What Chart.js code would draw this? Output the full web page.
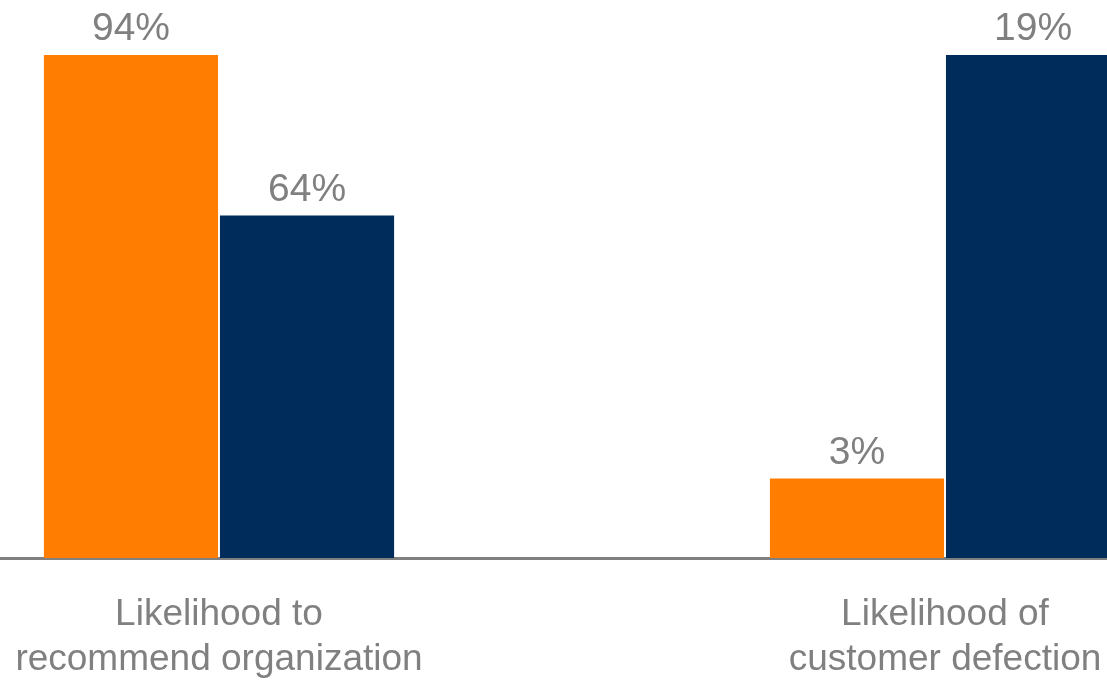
<!DOCTYPE html>
<html>
<head>
<meta charset="utf-8">
<script src="https://cdn.jsdelivr.net/npm/chart.js@4.4.1/dist/chart.umd.min.js"></script>
<style>
    html, body { margin: 0; padding: 0; background: #fff; overflow: hidden; }
    #wrap { width: 1107px; height: 681px; overflow: hidden; }
    canvas { display: block; }
</style>
</head>
<body>
<div id="wrap">
    <canvas id="chart" width="1130" height="681"></canvas>
</div>
<script>
// Categories (middle one is an empty spacer between the two groups)
const categories = [
    ['Likelihood to', 'recommend organization'],
    '',
    ['Likelihood of', 'customer defection']
];
// Orange series and navy series, one value per category
const orangeValues = [94, null, 3];
const navyValues = [64, null, 19];
// Each group has its own scale (its highest bar reaches the top)
const groupMax = [94, null, 19];
const groupAxis = ['y', null, 'y2'];

const ORANGE = '#FF7D00';
const NAVY = '#002C5C';
const GREY = '#808080';
const FONT = '"Liberation Sans", Arial, Helvetica, sans-serif';

// One dataset per bar so each group can sit on its own axis
const datasets = [];
categories.forEach((cat, i) => {
    if (groupAxis[i] === null) return;
    [[orangeValues, ORANGE], [navyValues, NAVY]].forEach(([values, color]) => {
        const data = categories.map((c, j) => (j === i ? values[i] : null));
        datasets.push({
            data: data,
            backgroundColor: color,
            yAxisID: groupAxis[i],
            skipNull: true,
            categoryPercentage: 0.97,
            barPercentage: 0.989
        });
    });
});

// Grey baseline across the whole width
const baselinePlugin = {
    id: 'baseline',
    beforeDatasetsDraw(chart) {
        const ctx = chart.ctx;
        const y = chart.scales.y.getPixelForValue(0);
        ctx.save();
        ctx.strokeStyle = GREY;
        ctx.lineWidth = 3;
        ctx.beginPath();
        ctx.moveTo(0, y + 0.5);
        ctx.lineTo(chart.width, y + 0.5);
        ctx.stroke();
        ctx.restore();
    }
};

// Percent labels above the bars
const valueLabels = {
    id: 'valueLabels',
    afterDatasetsDraw(chart) {
        const ctx = chart.ctx;
        ctx.save();
        ctx.fillStyle = GREY;
        ctx.font = '39px ' + FONT;
        ctx.textAlign = 'center';
        ctx.textBaseline = 'alphabetic';
        chart.data.datasets.forEach((ds, di) => {
            const meta = chart.getDatasetMeta(di);
            meta.data.forEach((bar, i) => {
                const v = ds.data[i];
                if (v === null || v === undefined) return;
                ctx.fillText(v + '%', bar.x, bar.y - 15);
            });
        });
        ctx.restore();
    }
};

new Chart(document.getElementById('chart'), {
    type: 'bar',
    data: {
        labels: categories,
        datasets: datasets
    },
    options: {
        responsive: false,
        animation: false,
        layout: {
            padding: { left: 37.5, right: 3.5, top: 55, bottom: 0 }
        },
        plugins: {
            legend: { display: false },
            tooltip: { enabled: false }
        },
        scales: {
            x: {
                grid: { display: false, drawTicks: false },
                border: { display: false },
                ticks: {
                    color: GREY,
                    padding: 34,
                    maxRotation: 0,
                    autoSkip: false,
                    font: { family: FONT, size: 37, lineHeight: 1.22 }
                },
                afterFit(scale) {
                    // labels may spill past the plot edges, as in the original
                    scale.paddingLeft = 0;
                    scale.paddingRight = 0;
                    scale.height = 123;
                }
            },
            y: {
                display: false,
                min: 0,
                max: groupMax[0]
            },
            y2: {
                display: false,
                min: 0,
                max: groupMax[2]
            }
        }
    },
    plugins: [baselinePlugin, valueLabels]
});
</script>
</body>
</html>
